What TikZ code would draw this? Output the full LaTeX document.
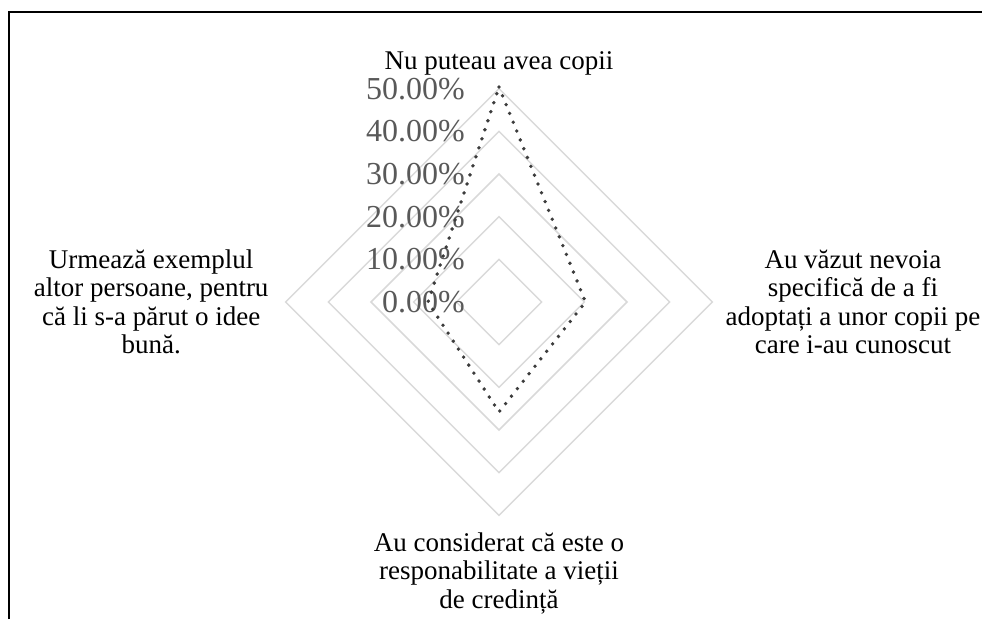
\documentclass[tikz,border=0pt]{standalone}
\usepackage{fontspec}
\setmainfont{Liberation Serif}
\usepackage{tikz}
\usetikzlibrary{positioning}
\definecolor{gridcolor}{RGB}{217, 217, 217}
\definecolor{tickcolor}{RGB}{89, 89, 89}
\definecolor{seriescolor}{RGB}{60, 60, 60}

\begin{document}
\begin{tikzpicture}[
    x=1pt, y=-1pt,
    gridline/.style={draw=gridcolor, line width=1.5pt},
    series/.style={draw=seriescolor, line width=3.8pt, line cap=round, dash pattern=on 0pt off 9.5pt},
    category/.style={align=center, inner sep=0pt, font=\fontsize{27}{28.5}\selectfont},
    ticklabel/.style={inner sep=0pt, text=tickcolor, font=\fontsize{32}{32}\selectfont}
]
    \useasboundingbox (0,0) rectangle (982,619);
    % Frame
    \draw[line width=1.8pt] (9,619) -- (9,12) -- (982,12);

    % Grid
    \foreach \r in {42.67,85.33,128,170.67,213.33}
        \draw[gridline] (499,{302-\r}) -- ({499+\r},302) -- (499,{302+\r}) -- ({499-\r},302) -- cycle;

    % Outer vertices
    \coordinate (gt) at (499,88.67);
    \coordinate (gr) at (712.33,302);
    \coordinate (gb) at (499,515.33);
    \coordinate (gl) at (285.67,302);

    % Axis values
    \foreach \v [count=\i from 0] in {0.00,10.00,20.00,30.00,40.00,50.00} {
        \coordinate (t\i) at (499,{302-42.67*\i});
        \node[ticklabel, left=34pt of t\i] (tick\i) {\v\%};
    }

    % Categories
    \node[category, above=13pt of gt] (copii) {Nu puteau avea copii};
    \node[category, right=13pt of gr] (nevoia) {Au văzut nevoia\\specifică de a fi\\adoptați a unor copii pe\\care i-au cunoscut};
    \node[category, below=17pt of gb] (credinta) {Au considerat că este o\\responabilitate a vieții\\de credință};
    \node[category, left=17pt of gl] (exemplu) {Urmează exemplul\\altor persoane, pentru\\că li s-a părut o idee\\bună.};

    % Series
    \coordinate (d1) at (499,87);
    \coordinate (d2) at (585.5,302);
    \coordinate (d3) at (499,412);
    \coordinate (d4) at (428,302);
    \draw[series] (d1) -- (d2) -- (d3) -- (d4) -- cycle;
\end{tikzpicture}
\end{document}
